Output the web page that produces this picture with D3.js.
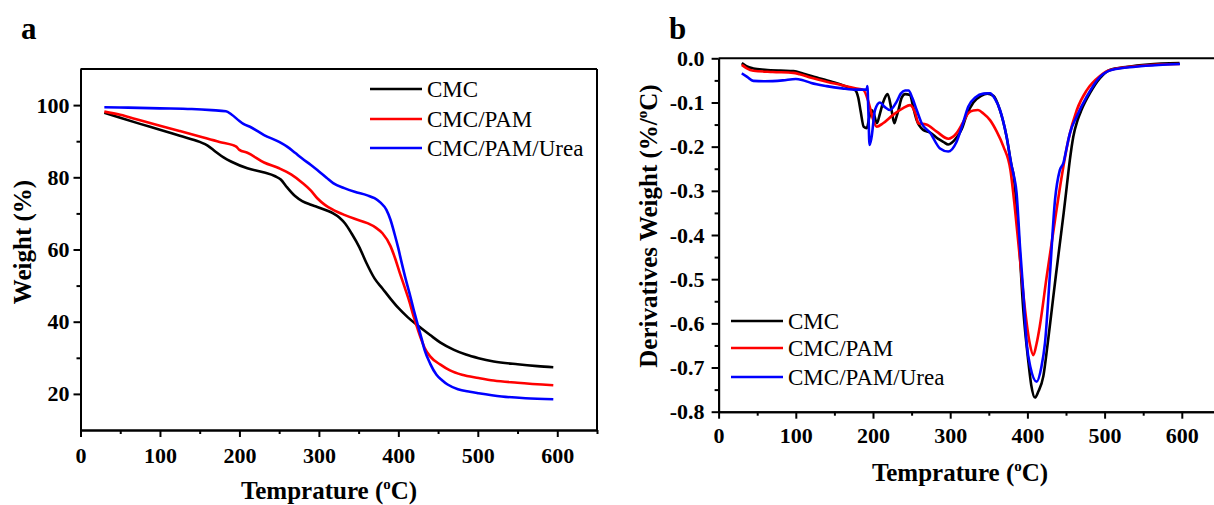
<!DOCTYPE html>
<html>
<head>
<meta charset="utf-8">
<script src="https://cdn.jsdelivr.net/npm/d3@7/dist/d3.min.js"></script>
<style>
  body { margin: 0; background: #fff; }
  svg text { font-family: "Liberation Serif", "Times New Roman", serif; }
</style>
</head>
<body>
<svg id="chart" width="1214" height="505"></svg>
<script>
// series names + colours
var seriesNames = ["CMC", "CMC/PAM", "CMC/PAM/Urea"]
var seriesColors = ["#000000", "#ff0000", "#0000ff"]

// panel a : TGA, [temperature, weight %]
var tgaCMC = [[30,97.9],[50,96.5],[75,94.8],[100,93.2],[125,91.5],[150,89.8],[160,88.8],[170,87.1],[180,85.5],[190,84.3],[210,82.5],[230,81.4],[245,80.3],[252,79.4],[260,77.2],[270,74.8],[279,73.4],[290,72.4],[298,71.8],[310,70.8],[318,70],[326,68.8],[333,67.2],[341,64.5],[351,60.6],[360,56.2],[370,52],[380,49.2],[390,46.4],[400,43.8],[412,41.2],[424,39],[440,36.3],[453,34.2],[470,32.2],[485,30.9],[501,29.9],[520,29],[550,28.2],[575,27.7],[595,27.4]]
var tgaPAM = [[30,98.2],[50,97.3],[75,95.8],[100,94.3],[125,92.8],[150,91.3],[175,89.8],[192,88.9],[196,88.5],[200,87.6],[210,86.8],[231,84.1],[250,82.5],[265,80.8],[279,78.5],[290,76.3],[298,74.2],[308,72.3],[318,71],[332,69.6],[345,68.5],[361,67.3],[372,66],[380,64.5],[390,61],[396,57.5],[402,53.4],[408,49.5],[414,45.5],[419,41.6],[424,38.2],[429,35],[433,32.8],[440,30.4],[453,28.1],[465,26.5],[480,25.3],[501,24.4],[520,23.7],[550,23.1],[595,22.4]]
var tgaUrea = [[30,99.4],[60,99.3],[100,99.1],[140,98.9],[165,98.6],[183,98.3],[190,97.4],[200,95.6],[205,94.8],[215,93.8],[231,91.7],[250,89.8],[260,88.5],[270,86.8],[279,85.2],[290,83.4],[298,82],[310,79.8],[318,78.4],[332,77],[345,76],[361,75],[370,74.2],[378,72.9],[385,71],[390,68.3],[395,64.5],[400,60.3],[404,56.5],[409,52],[414,47.9],[419,43.6],[424,39.5],[429,35.5],[433,32.2],[440,28.4],[448,25.3],[455,23.8],[462,22.6],[475,21.3],[490,20.6],[501,20.2],[530,19.3],[560,18.8],[595,18.5]]

// panel b : DTG, [temperature, derivative weight %/oC]
var dtgCMC = [[30,-0.011],[36,-0.018],[45,-0.023],[60,-0.026],[80,-0.028],[97,-0.029],[110,-0.035],[130,-0.045],[150,-0.055],[165,-0.064],[177,-0.072],[181,-0.09],[184,-0.12],[188,-0.155],[192,-0.158],[195,-0.135],[198,-0.117],[201,-0.125],[205,-0.147],[209,-0.125],[213,-0.1],[219,-0.081],[224,-0.117],[227.6,-0.147],[230,-0.135],[233,-0.117],[237,-0.09],[241.5,-0.081],[248,-0.083],[252,-0.11],[256.6,-0.14],[265,-0.162],[274,-0.168],[284,-0.182],[291,-0.189],[297.5,-0.195],[308,-0.18],[315,-0.16],[321,-0.13],[330,-0.1],[340,-0.085],[348,-0.08],[356,-0.085],[364,-0.115],[373,-0.177],[379.7,-0.245],[381.7,-0.26],[388,-0.381],[394.7,-0.57],[401,-0.683],[405,-0.74],[409.8,-0.768],[414,-0.755],[420.6,-0.72],[426,-0.65],[431.5,-0.57],[437,-0.49],[442,-0.42],[447,-0.35],[451,-0.29],[455,-0.23],[459.5,-0.177],[465,-0.14],[470,-0.117],[481,-0.079],[494,-0.045],[506,-0.027],[530,-0.019],[556,-0.014],[597,-0.011]]
var dtgPAM = [[30,-0.015],[36,-0.022],[45,-0.028],[70,-0.031],[96.8,-0.033],[105,-0.036],[120,-0.044],[140,-0.053],[160,-0.061],[177,-0.068],[187.7,-0.072],[194,-0.098],[200.4,-0.14],[204.8,-0.155],[213,-0.147],[226,-0.128],[239,-0.113],[248,-0.106],[254.7,-0.124],[258.7,-0.147],[269,-0.15],[282.5,-0.166],[297.5,-0.182],[308,-0.17],[316,-0.147],[323.5,-0.124],[330,-0.118],[336,-0.117],[343,-0.125],[351.6,-0.14],[360,-0.165],[369,-0.2],[378,-0.253],[384,-0.343],[390.4,-0.456],[397,-0.57],[403,-0.645],[407.7,-0.672],[412,-0.645],[416,-0.607],[425,-0.494],[435.8,-0.366],[444.4,-0.268],[453,-0.185],[464,-0.117],[477,-0.072],[494,-0.04],[506,-0.027],[540,-0.018],[570,-0.014],[597,-0.013]]
var dtgUrea = [[30,-0.034],[37,-0.042],[45,-0.051],[60,-0.052],[83,-0.05],[100,-0.047],[108,-0.049],[120,-0.056],[140,-0.063],[160,-0.068],[179,-0.071],[191.8,-0.071],[192.7,-0.063],[194,-0.12],[195.5,-0.196],[198,-0.18],[202.6,-0.117],[209,-0.1],[215,-0.11],[222,-0.117],[230.7,-0.098],[236,-0.08],[241.5,-0.073],[246,-0.073],[251,-0.09],[256.6,-0.117],[263,-0.147],[273.7,-0.168],[286.8,-0.204],[297.5,-0.211],[308,-0.19],[316,-0.15],[323.5,-0.109],[333,-0.088],[343,-0.08],[351.6,-0.079],[358,-0.092],[364.5,-0.117],[373,-0.177],[379.7,-0.245],[381.7,-0.26],[386,-0.305],[390.4,-0.426],[394.7,-0.531],[399,-0.644],[404,-0.7],[412,-0.732],[418,-0.7],[422.8,-0.644],[429,-0.494],[435.8,-0.32],[442,-0.253],[446.6,-0.237],[450,-0.21],[455,-0.17],[463.8,-0.132],[476.8,-0.087],[494,-0.042],[510,-0.026],[540,-0.019],[570,-0.015],[597.7,-0.013]]

// tick values
var xMajor = [0,100,200,300,400,500,600]
var xMinor = [50,150,250,350,450,550,650]
var yMajorA = [20,40,60,80,100]
var yMinorA = [30,50,70,90]
var yMajorB = [0,-0.1,-0.2,-0.3,-0.4,-0.5,-0.6,-0.7,-0.8]
var yMinorB = [-0.05,-0.15,-0.25,-0.35,-0.45,-0.55,-0.65,-0.75]

var svg = d3.select("#chart")

function drawPanel(opt) {
  var x = d3.scaleLinear().domain(opt.xDomain).range([opt.left, opt.right])
  var y = d3.scaleLinear().domain(opt.yDomain).range([opt.bottom, opt.top])
  var g = svg.append("g")

  // minor ticks first, then major with labels
  g.append("g").attr("transform", "translate(0," + opt.bottom + ")")
    .call(d3.axisBottom(x).tickValues(xMinor).tickSize(4).tickSizeOuter(0).tickFormat(""))
  g.append("g").attr("transform", "translate(0," + opt.bottom + ")")
    .call(d3.axisBottom(x).tickValues(xMajor).tickSize(7).tickSizeOuter(0).tickPadding(opt.xPad))
  g.append("g").attr("transform", "translate(" + opt.left + ",0)")
    .call(d3.axisLeft(y).tickValues(opt.yMinor).tickSize(4).tickSizeOuter(0).tickFormat(""))
  g.append("g").attr("transform", "translate(" + opt.left + ",0)")
    .call(d3.axisLeft(y).tickValues(opt.yMajor).tickSize(7).tickSizeOuter(0).tickPadding(opt.yPad).tickFormat(opt.fmt))

  g.selectAll(".domain, .tick line").attr("stroke", "#000").attr("stroke-width", 2)
  g.selectAll(".tick text").attr("font-size", "22px").attr("font-weight", "bold")
    .attr("fill", "#000").style("font-family", "'Liberation Serif', serif")

  // frame top + right
  g.append("line").attr("x1", opt.left).attr("x2", opt.right).attr("y1", opt.top).attr("y2", opt.top)
    .attr("stroke", "#000").attr("stroke-width", 2)
  g.append("line").attr("x1", opt.right).attr("x2", opt.right).attr("y1", opt.top).attr("y2", opt.bottom)
    .attr("stroke", "#000").attr("stroke-width", 2)

  var line = d3.line().x(function(d) { return x(d[0]) }).y(function(d) { return y(d[1]) })
    .curve(d3.curveMonotoneX)
  opt.series.forEach(function(s, i) {
    g.append("path").datum(s).attr("d", line).attr("fill", "none")
      .attr("stroke", seriesColors[i]).attr("stroke-width", 2.6).attr("stroke-linejoin", "round")
  })

  // legend
  seriesNames.forEach(function(name, i) {
    var ly = opt.legY[i]
    g.append("line").attr("x1", opt.legX).attr("x2", opt.legX + 52).attr("y1", ly).attr("y2", ly)
      .attr("stroke", seriesColors[i]).attr("stroke-width", 2.6)
    g.append("text").attr("x", opt.legX + 57).attr("y", ly + 8).attr("font-size", "23px").text(name)
  })

  // axis titles
  var xt = g.append("text").attr("x", opt.xTitle[0]).attr("y", opt.xTitle[1]).attr("text-anchor", "middle")
    .attr("font-size", "25px").attr("font-weight", "bold")
  xt.append("tspan").text("Temprature (")
  xt.append("tspan").attr("font-size", "15px").attr("dy", -10).text("o")
  xt.append("tspan").attr("dy", 10).text("C)")

  var yt = g.append("text").attr("transform", "translate(" + opt.yTitle[0] + "," + opt.yTitle[1] + ") rotate(-90)")
    .attr("text-anchor", "middle").attr("font-size", "25px").attr("font-weight", "bold")
  opt.yTitleParts(yt)

  g.append("text").attr("x", opt.letter[0]).attr("y", opt.letter[1]).attr("font-size", "31px")
    .attr("font-weight", "bold").text(opt.letterText)
}

drawPanel({
  left: 80.5, right: 597, top: 69, bottom: 430,
  xDomain: [0, 650], yDomain: [10, 110],
  yMajor: yMajorA, yMinor: yMinorA, fmt: d3.format("d"), xPad: 10, yPad: 4,
  series: [tgaCMC, tgaPAM, tgaUrea],
  legX: 370, legY: [89, 119, 148],
  xTitle: [329, 499], yTitle: [31, 242],
  yTitleParts: function(t) { t.text("Weight (%)") },
  letter: [21, 39], letterText: "a"
})

drawPanel({
  left: 718.6, right: 718.6 + 650 * 0.772, top: 58.3, bottom: 411.7,
  xDomain: [0, 650], yDomain: [-0.8, 0],
  yMajor: yMajorB, yMinor: yMinorB, fmt: function(v) { return v.toFixed(1) }, xPad: 9, yPad: 7,
  series: [dtgCMC, dtgPAM, dtgUrea],
  legX: 731, legY: [321, 348, 377],
  xTitle: [960, 481], yTitle: [657, 226],
  yTitleParts: function(t) {
    t.append("tspan").text("Derivatives Weight (%/")
    t.append("tspan").attr("font-size", "15px").attr("dy", -10).text("o")
    t.append("tspan").attr("dy", 10).text("C)")
  },
  letter: [669, 39], letterText: "b"
})
</script>
</body>
</html>
